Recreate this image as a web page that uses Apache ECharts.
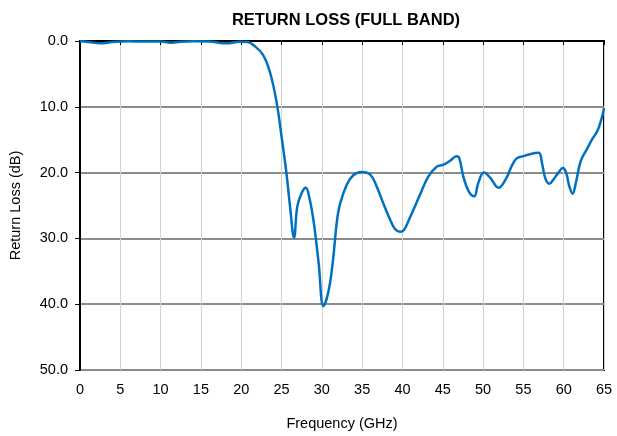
<!DOCTYPE html>
<html><head><meta charset="utf-8">
<script src="https://cdn.jsdelivr.net/npm/echarts@6/dist/echarts.min.js"></script>
<style>html,body{margin:0;padding:0;background:#fff}#c{width:617px;height:436px}</style>
</head><body><div id="c"></div>
<script>
const freqGHz = [0,1,2.5,4,6,8,10,11.2,12.5,14,16,18.2,19.85,20.8,21.5,22.7,23.6,24.4,25.0,25.6,26.05,26.55,26.96,27.5,28.0,28.5,29.0,29.6,30.2,30.8,31.35,31.85,32.25,33.1,33.9,34.9,36.0,36.8,37.6,38.45,39.1,39.7,40.2,40.9,42.2,43.2,44.25,45.1,45.9,46.7,47.05,47.55,48.2,48.9,49.4,50.1,50.9,51.9,52.9,53.55,54.2,55.0,55.8,56.9,57.3,57.7,58.2,58.7,59.35,59.9,60.3,60.7,61.1,61.5,62.1,62.85,63.5,64.2,64.7,65];
const returnLossDb = [0.05,0.15,0.35,0.15,0.05,0.08,0.08,0.25,0.1,0.05,0.08,0.35,0.1,0.15,0.6,2.1,4.9,9.4,14.5,20.0,25.1,29.9,25.1,23.1,22.3,24.1,27.6,33.7,40.3,38.2,33.7,27.6,24.8,21.8,20.4,19.9,20.3,22.1,24.6,27.1,28.6,29.0,28.7,26.9,23.3,20.6,19.1,18.8,18.2,17.5,17.8,20.6,22.8,23.6,21.6,20.0,20.8,22.3,20.8,19.0,17.8,17.5,17.2,17.0,18.5,20.8,21.7,21.1,20.0,19.3,20.0,22.1,23.2,21.6,18.3,16.5,15.0,13.6,11.8,10.2];
const xTicks = {min:0, max:65, interval:5};
const yTicks = {min:0, max:50, interval:10};

const chart = echarts.init(document.getElementById('c'), null, {renderer:'canvas'});
const font = 'Liberation Sans, Arial, sans-serif';
chart.setOption({
  animation:false,
  title:{text:'RETURN LOSS (FULL BAND)', left:341, textAlign:'center', top:7,
    textStyle:{fontFamily:font, fontSize:16.5, fontWeight:'bold', color:'#000'}},
  grid:{left:80, right:13, top:41, bottom:65, show:true, borderColor:'#000', borderWidth:2, containLabel:false},
  xAxis:[{
    type:'value', min:xTicks.min, max:xTicks.max, interval:xTicks.interval, position:'bottom',
    name:'Frequency (GHz)', nameLocation:'middle', nameGap:46,
    nameTextStyle:{fontFamily:font, fontSize:14.5, color:'#000'},
    axisLine:{show:true, lineStyle:{color:'#000', width:2}},
    axisTick:{show:false},
    axisLabel:{fontFamily:font, fontSize:14.5, color:'#000', margin:12},
    splitLine:{show:true, lineStyle:{color:'#d0d0d0', width:1}}
  },{
    type:'value', min:xTicks.min, max:xTicks.max, interval:xTicks.interval, position:'top',
    axisLine:{show:true, lineStyle:{color:'#000', width:2}},
    axisTick:{show:true, inside:true, length:4, lineStyle:{color:'#000', width:1}},
    axisLabel:{show:false}, splitLine:{show:false}
  }],
  yAxis:{
    type:'value', inverse:true, min:yTicks.min, max:yTicks.max, interval:yTicks.interval,
    name:'Return Loss (dB)', nameLocation:'middle', nameGap:57, nameRotate:90,
    nameTextStyle:{fontFamily:font, fontSize:14.5, color:'#000'},
    axisLine:{show:true, lineStyle:{color:'#000', width:2}},
    axisTick:{show:true, length:5, lineStyle:{color:'#000'}},
    axisLabel:{fontFamily:font, fontSize:14.5, color:'#000', margin:12, formatter:v=>v.toFixed(1)},
    splitLine:{show:true, lineStyle:{color:'#8c8c8c', width:2}}
  },
  series:[{
    type:'line', xAxisIndex:0, smooth:0.4, showSymbol:false,
    data:freqGHz.map((f,i)=>[f, returnLossDb[i]]),
    lineStyle:{color:'#0070C0', width:2.5}, z:5
  }]
});
</script></body></html>
